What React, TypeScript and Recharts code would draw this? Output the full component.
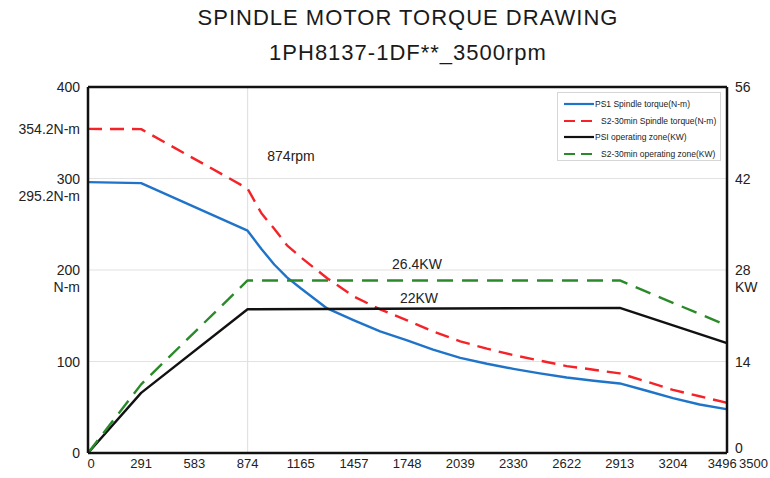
import { LineChart, Line, XAxis, YAxis, ReferenceLine, ReferenceDot, Legend } from "recharts"

// torque curves, N-m (left axis), read at these speeds (rpm)
const torqueRpm = [0, 291, 874, 950, 1020, 1090, 1165, 1310, 1457, 1600, 1748, 1890, 2039, 2185, 2330, 2475, 2622, 2770, 2913, 3060, 3204, 3350, 3496, 3500]
const s1Torque = [296, 295, 243, 223, 206, 192, 180, 158, 145, 133, 123, 113, 104, 97.5, 92, 87, 82.5, 79, 76, 68, 60, 53, 48, 48]
const s2Torque = [354.2, 354, 289, 262, 245, 227, 214, 191, 171, 157, 145, 133, 122, 114, 107, 101, 95, 91, 87, 78, 69, 62, 55, 54]

// operating zone power, KW (right axis)
const powerRpm = [0, 291, 874, 2913, 3500]
const s1Power = [0, 9.2, 22, 22.2, 16.8]
const s2Power = [0, 10.5, 26.4, 26.4, 19.5]

const xTicks = [0, 291, 583, 874, 1165, 1457, 1748, 2039, 2330, 2622, 2913, 3204, 3496, 3500]
const torqueTicks = [0, 100, 200, 300, 354.2, 400]
const powerTicks = [0, 14, 28, 42, 56]

const toPoints = (xs: number[], ys: number[]) => xs.map((x, i) => ({ rpm: x, v: ys[i] }))

const seriesInfo = [
    { key: "s1Torque", name: "PS1 Spindle torque(N-m)", color: "#1f74c9", dash: undefined, axis: "left", data: toPoints(torqueRpm, s1Torque) },
    { key: "s2Torque", name: "S2-30min Spindle torque(N-m)", color: "#f52228", dash: "14 8", axis: "left", data: toPoints(torqueRpm, s2Torque) },
    { key: "s1Power", name: "PSI operating zone(KW)", color: "#111111", dash: undefined, axis: "right", data: toPoints(powerRpm, s1Power) },
    { key: "s2Power", name: "S2-30min operating zone(KW)", color: "#2a8a2a", dash: "16 9", axis: "right", data: toPoints(powerRpm, s2Power) },
]

const FONT = "'Liberation Sans', Arial, sans-serif"

const LeftTick = ({ x, y, payload }: any) => {
    const v = payload.value
    let lines = [String(v)]
    if (v === 354.2) lines = ["354.2N-m"]
    if (v === 300) lines = ["300", "295.2N-m"]
    if (v === 200) lines = ["200", "N-m"]
    return (
        <text x={x} y={y} textAnchor="end" fontSize={14} fill="#222" fontFamily={FONT}>
            {lines.map((l, i) => (
                <tspan key={i} x={x} dy={i === 0 ? 5 : 17}>{l}</tspan>
            ))}
        </text>
    )
}

const RightTick = ({ x, y, payload }: any) => {
    const v = payload.value
    const lines = v === 28 ? ["28", "KW"] : [String(v)]
    return (
        <text x={x} y={y} textAnchor="start" fontSize={14} fill="#222" fontFamily={FONT}>
            {lines.map((l, i) => (
                <tspan key={i} x={x} dy={i === 0 ? (v === 0 ? 0 : 5) : 17}>{l}</tspan>
            ))}
        </text>
    )
}

const BottomTick = ({ x, y, payload }: any) => {
    const v = payload.value
    let dx = 0
    let anchor = "middle"
    if (v === 0) dx = 3
    if (v === 3496) dx = -4
    if (v === 3500) { dx = 12; anchor = "start" }
    return (
        <text x={x + dx} y={y + 9} textAnchor={anchor} fontSize={13} fill="#222" fontFamily={FONT}>
            {v}
        </text>
    )
}

const renderLegend = () => (
    <div style={{ width: 164, height: 69, border: "1px solid #d6d6d6", background: "#fff", boxSizing: "border-box", padding: "3px 0 0 6px" }}>
        {seriesInfo.map((s) => (
            <div key={s.key} style={{ display: "flex", alignItems: "center", height: 16.5 }}>
                <svg width={31} height={6}>
                    <line x1={0} y1={3} x2={30} y2={3} stroke={s.color} strokeWidth={2.2} strokeDasharray={s.dash ? "11 6" : undefined} />
                </svg>
                <span style={{ fontSize: 8.5, fontFamily: FONT, color: "#222", marginLeft: s.dash ? 6 : 0, whiteSpace: "nowrap" }}>{s.name}</span>
            </div>
        ))}
    </div>
)

const App = () => {
    return (
        <div style={{ position: "relative", width: 770, height: 478, background: "#fff", fontFamily: FONT }}>
            <style>{"body{margin:0}"}</style>
            <div style={{ position: "absolute", top: 5, left: 0, width: 816, textAlign: "center", fontSize: 22, letterSpacing: 1, color: "#1a1a1a" }}>
                SPINDLE MOTOR TORQUE DRAWING
            </div>
            <div style={{ position: "absolute", top: 40, left: 0, width: 816, textAlign: "center", fontSize: 22, letterSpacing: 1, color: "#1a1a1a" }}>
                1PH8137-1DF**_3500rpm
            </div>
            <LineChart width={770} height={478} margin={{ top: 87, right: 0, left: 0, bottom: 0 }}>
                <XAxis
                    dataKey="rpm"
                    type="number"
                    domain={[0, 3500]}
                    ticks={xTicks}
                    interval={0}
                    tick={<BottomTick />}
                    tickLine={false}
                    tickMargin={0}
                    height={25}
                    axisLine={{ stroke: "#111", strokeWidth: 2.5 }}
                    allowDuplicatedCategory={false}
                />
                <YAxis
                    yAxisId="left"
                    domain={[0, 400]}
                    ticks={torqueTicks}
                    interval={0}
                    tick={<LeftTick />}
                    tickLine={false}
                    width={88}
                    axisLine={{ stroke: "#111", strokeWidth: 2.5 }}
                />
                <YAxis
                    yAxisId="right"
                    orientation="right"
                    domain={[0, 56]}
                    ticks={powerTicks}
                    interval={0}
                    tick={<RightTick />}
                    tickLine={false}
                    width={43}
                    axisLine={{ stroke: "#111", strokeWidth: 2.5 }}
                />
                {[100, 200, 300].map((v) => (
                    <ReferenceLine key={v} yAxisId="left" y={v} stroke="#e2e2e2" strokeWidth={1.2} />
                ))}
                <ReferenceLine yAxisId="left" x={874} stroke="#e2e2e2" strokeWidth={1.2} />
                <ReferenceLine yAxisId="left" y={400} stroke="#111" strokeWidth={2.5} />
                {seriesInfo.map((s) => (
                    <Line
                        key={s.key}
                        data={s.data}
                        yAxisId={s.axis}
                        dataKey="v"
                        name={s.name}
                        type="linear"
                        stroke={s.color}
                        strokeWidth={2.4}
                        strokeDasharray={s.dash}
                        strokeLinejoin="round"
                        dot={false}
                        activeDot={false}
                        isAnimationActive={false}
                    />
                ))}
                <ReferenceDot yAxisId="left" x={1112} y={325} r={0} fill="none" stroke="none"
                    label={{ value: "874rpm", position: "center", fontSize: 14, fill: "#222", fontFamily: FONT }} />
                <ReferenceDot yAxisId="left" x={1802} y={207} r={0} fill="none" stroke="none"
                    label={{ value: "26.4KW", position: "center", fontSize: 14, fill: "#222", fontFamily: FONT }} />
                <ReferenceDot yAxisId="left" x={1813} y={169} r={0} fill="none" stroke="none"
                    label={{ value: "22KW", position: "center", fontSize: 14, fill: "#222", fontFamily: FONT }} />
                <Legend
                    layout="vertical"
                    align="center"
                    verticalAlign="middle"
                    content={renderLegend}
                    wrapperStyle={{ top: 92, left: 557, width: 164 }}
                />
            </LineChart>
        </div>
    )
}

export default App
